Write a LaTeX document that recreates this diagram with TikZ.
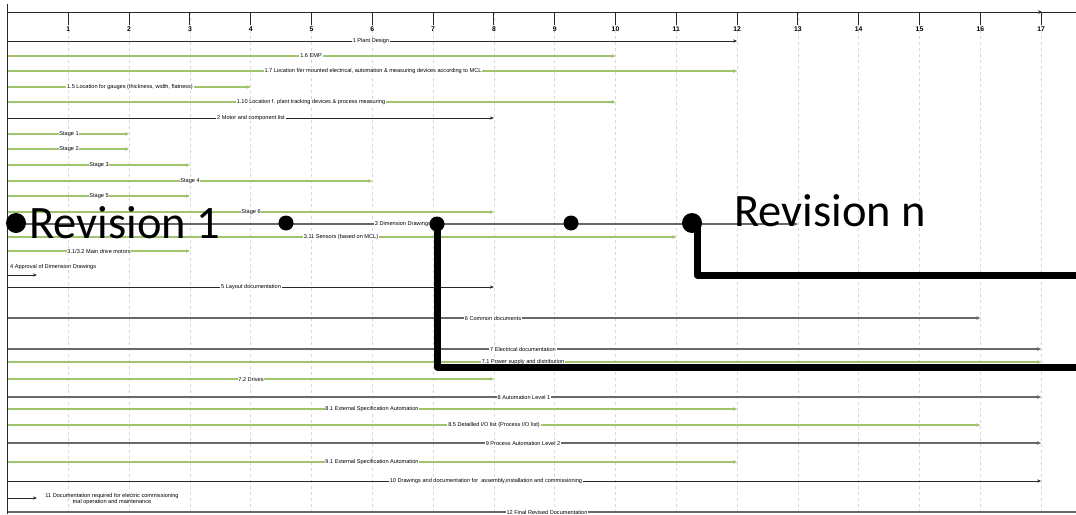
\documentclass[tikz,border=0pt]{standalone}
\usepackage{fontspec}
\setmainfont{Liberation Sans}
\newfontfamily\revfont{Carlito}
\usetikzlibrary{arrows.meta}
\definecolor{barblack}{RGB}{40,40,40}
\definecolor{bargrey}{RGB}{105,105,105}
\definecolor{bargreen}{RGB}{160,195,110}
\definecolor{gridgrey}{RGB}{215,215,215}
\tikzset{
  lbl/.style={fill=white, inner sep=0.4pt, font=\fontsize{2.8}{3.3}\selectfont, text=black},
  blackbar/.style={draw=barblack, line width=0.5pt, -{Stealth[length=2pt,width=1.6pt]}},
  greybar/.style={draw=bargrey, line width=1pt, -{Stealth[length=2pt,width=1.8pt]}},
  greenbar/.style={draw=bargreen, line width=0.8pt, -{Stealth[length=2pt,width=1.8pt]}},
  revdot/.style={circle, fill=black, inner sep=0pt},
  revline/.style={line width=3.5pt, line join=round, draw=black},
  revtext/.style={font=\revfont\fontsize{23.25}{28}\selectfont, inner sep=0pt, text depth=0pt, anchor=base west},
  ticklbl/.style={font=\bfseries\fontsize{3.4}{4}\selectfont, inner sep=0.3pt},
  gridline/.style={draw=gridgrey, line width=0.4pt, dash pattern=on 1.5pt off 1.5pt},
}
\newcommand\ganttrow[6]{% name, y, end unit, style, label x, text
  \coordinate (#1s) at (7.5,#2);
  \coordinate (#1e) at ({7.5+60.8*#3},#2);
  \draw[#4] (#1s) -- (#1e);
  \node[lbl] (#1l) at (#5,#2) {#6};
}
\begin{document}
\begin{tikzpicture}[x=0.5pt,y=-0.5pt]
\useasboundingbox (0,0) rectangle (1076,514);
% grid
\foreach \u in {1,...,17} {
  \coordinate (g\u t) at ({7.5+60.8*\u},12);
  \coordinate (g\u b) at ({7.5+60.8*\u},514);
  \draw[gridline] (g\u t) -- (g\u b);
}
% axes
\coordinate (axT) at (7.5,4);
\coordinate (axB) at (7.5,514);
\coordinate (axL) at (7.5,12);
\coordinate (axR) at (1076,12);
\draw[draw=barblack, line width=0.6pt] (axT) -- (axB);
\draw[draw=barblack, line width=0.5pt] (axL) -- (axR);
\coordinate (axA1) at (1030,12);
\coordinate (axA2) at (1042,12);
\draw[draw=barblack, line width=0.5pt, -{Stealth[length=2pt,width=1.8pt]}] (axA1) -- (axA2);
\foreach \u in {1,...,17} {
  \coordinate (tk\u) at ({7.5+60.8*\u},25);
  \draw[draw=barblack, line width=0.5pt] (g\u t) -- (tk\u);
  \node[ticklbl] (tl\u) at ({7.5+60.8*\u},29.5) {\u};
}
% rows
\ganttrow{r1}{41}{12}{blackbar}{371}{1 Plant Design}
\ganttrow{r2}{56}{10}{greenbar}{311}{1.6 EMP}
\ganttrow{r3}{71}{12}{greenbar}{373}{1.7 Location f/er mounted electrical, automation \& measuring devices according to MCL}
\ganttrow{r4}{87}{4}{greenbar}{130}{1.5 Location for gauges (thickness, width, flatness)}
\ganttrow{r5}{102}{10}{greenbar}{311}{1.10 Location f. plant tracking devices \& process measuring}
\ganttrow{r6}{118}{8}{blackbar}{251}{2 Motor and component list}
\ganttrow{r7}{134}{2}{greenbar}{69}{Stage 1}
\ganttrow{r8}{149}{2}{greenbar}{69}{Stage 2}
\ganttrow{r9}{165}{3}{greenbar}{99}{Stage 3}
\ganttrow{r10}{181}{6}{greenbar}{190}{Stage 4}
\ganttrow{r11}{196}{3}{greenbar}{99}{Stage 5}
\ganttrow{r12}{212}{8}{greenbar}{251}{Stage 6}
\ganttrow{r13}{224}{13}{greybar}{403}{3 Dimension Drawings}
\ganttrow{r14}{237}{11}{greenbar}{341}{3.11 Sensors (based on MCL)}
\ganttrow{r15}{251}{3}{greenbar}{99}{3.1/3.2 Main drive motors}
\coordinate (r16s) at (7.5,275);
\coordinate (r16e) at (37,275);
\draw[blackbar] (r16s) -- (r16e);
\node[lbl, anchor=west] (r16l) at (9,267) {4 Approval of Dimension Drawings};
\ganttrow{r17}{287}{8}{blackbar}{251}{5 Layout documentation}
\ganttrow{r18}{318}{16}{greybar}{493}{6 Common documents}
\ganttrow{r19}{349}{17}{greybar}{523}{7 Electrical documentation}
\ganttrow{r20}{362}{17}{greenbar}{523}{7.1 Power supply and distribution}
\ganttrow{r21}{379}{8}{greenbar}{251}{7.2 Drives}
\ganttrow{r22}{397}{17}{greybar}{524}{8 Automation Level 1}
\ganttrow{r23}{409}{12}{greenbar}{372}{8.1 External Specification Automation}
\ganttrow{r24}{425}{16}{greenbar}{494}{8.5 Detailled I/O list (Process I/O list)}
\ganttrow{r25}{443}{17}{greybar}{523}{9 Process Automation Level 2}
\ganttrow{r26}{462}{12}{greenbar}{372}{9.1 External Specification Automation}
\ganttrow{r27}{481}{17}{blackbar}{486}{10 Drawings and documentation for\ \ assembly,installation and commissioning}
\coordinate (r28s) at (7.5,498);
\coordinate (r28e) at (37,498);
\draw[blackbar] (r28s) -- (r28e);
\node[lbl, align=center, fill=none] (r28l) at (112,499) {11 Documentation required for electric commissioning\\trial operation and maintenance};
\ganttrow{r29}{512}{17.58}{greybar,-}{547}{12 Final Revised Documentation}
% revision overlay
\node[revdot, minimum size=10pt] (d1) at (16,223) {};
\node[revdot, minimum size=7.5pt] (d2) at (286,223) {};
\node[revdot, minimum size=7.5pt] (d3) at (437,224) {};
\node[revdot, minimum size=7.5pt] (d4) at (571,223) {};
\node[revdot, minimum size=10pt] (d5) at (692,223) {};
\coordinate (ea) at (1076,367);
\coordinate (eb) at (1076,275);
\draw[revline] (d3.center) |- (ea);
\draw[revline] ([xshift=2.5pt]d5.center) |- (eb);
\node[revtext] (rev1) at (29,238) {Revision 1};
\node[revtext] (revn) at (734,226) {Revision n};
\end{tikzpicture}
\end{document}
